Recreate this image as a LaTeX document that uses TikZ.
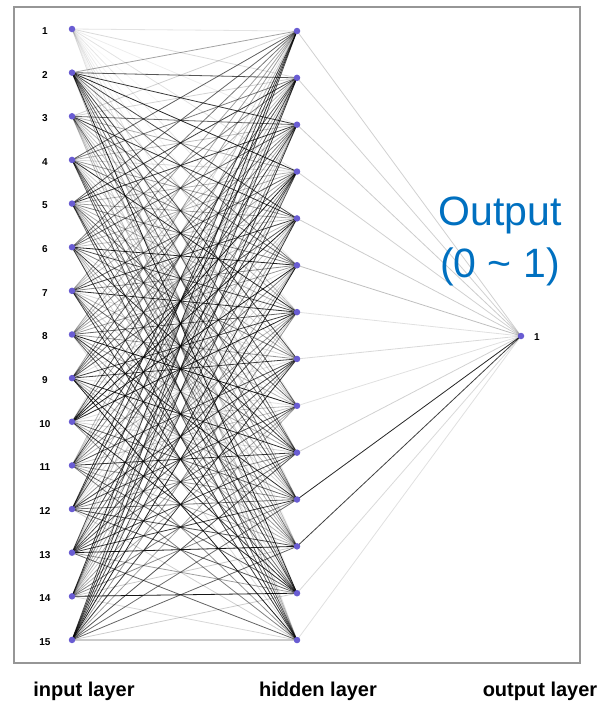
\documentclass[tikz,border=0pt]{standalone}
\usepackage{fontspec}
\setmainfont{Liberation Sans}
\definecolor{nodeblue}{RGB}{105,92,210}
\definecolor{framegray}{RGB}{150,150,150}
\definecolor{outblue}{RGB}{0,112,192}
\pgfdeclarelayer{bg}
\pgfsetlayers{bg,main}
\begin{document}
\begin{tikzpicture}[x=1pt,y=-1pt,
  neuron/.style={circle,fill=nodeblue,inner sep=0pt,minimum size=6.5pt},
  numlab/.style={font=\bfseries\fontsize{10}{12}\selectfont,inner sep=0pt},
  layerlab/.style={font=\bfseries\fontsize{20}{24}\selectfont,anchor=base,inner sep=0pt},
  wire/.style={line width=0.8pt},
  outwire/.style={line width=0.8pt}]
\useasboundingbox (0,0) rectangle (599,702);
\draw[framegray,line width=1.6pt] (14,7) rectangle (580,663);
\foreach \i in {1,...,15} {
  \node[neuron] (in\i) at (72,{29+(\i-1)*43.64}) {};
  \node[numlab] (inl\i) at (45,{31+(\i-1)*43.64}) {\i};
}
\foreach \j in {1,...,14} {
  \node[neuron] (h\j) at (297,{31+(\j-1)*46.85}) {};
}
\node[neuron] (out) at (521,336) {};
\node[numlab] (outl) at (537,337) {1};
\pgfmathsetseed{11}
\begin{pgfonlayer}{bg}
\foreach \j in {1,...,14} {
  \pgfmathsetmacro\op{0.03+0.12*rnd}
  \draw[wire,black,opacity=\op] (in1.center) -- (h\j.center);
}
\foreach \i in {2,...,15} {
  \foreach \j in {1,...,14} {
    \pgfmathsetmacro\op{0.12+0.8*rnd}
    \draw[wire,black,opacity=\op] (in\i.center) -- (h\j.center);
  }
}
\foreach \j/\op in {1/0.18,2/0.18,3/0.2,4/0.18,5/0.2,6/0.25,7/0.12,8/0.15,9/0.12,10/0.18,11/0.85,12/0.75,13/0.15,14/0.12} {
  \draw[outwire,black,opacity=\op] (h\j.center) -- (out.center);
}
\end{pgfonlayer}
\node[font=\fontsize{41}{52}\selectfont,text=outblue,align=center,inner sep=0pt] (otxt) at (500,241) {Output\\(0 \textasciitilde{} 1)};
\node[layerlab] (lin) at (84,696) {input layer};
\node[layerlab] (lhid) at (318,696) {hidden layer};
\node[layerlab] (lout) at (540,696) {output layer};
\end{tikzpicture}
\end{document}
